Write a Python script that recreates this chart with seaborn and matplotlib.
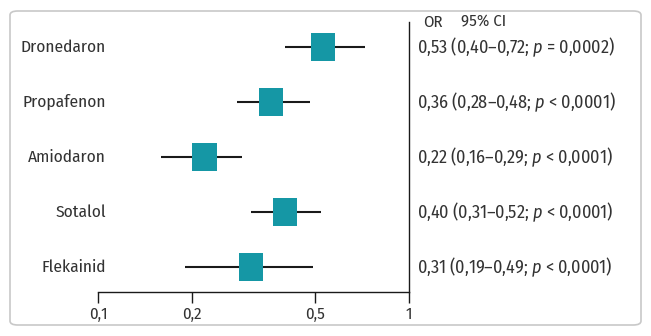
import matplotlib
matplotlib.use("Agg")
import matplotlib.pyplot as plt
import seaborn as sns
import pandas as pd
from matplotlib.patches import FancyBboxPatch

drugs = ["Dronedaron", "Propafenon", "Amiodaron", "Sotalol", "Flekainid"]
or_vals = [0.53, 0.36, 0.22, 0.40, 0.31]
ci_low = [0.40, 0.28, 0.16, 0.31, 0.19]
ci_high = [0.72, 0.48, 0.29, 0.52, 0.49]
p_ops = ["=", "<", "<", "<", "<"]
p_vals = ["0,0002", "0,0001", "0,0001", "0,0001", "0,0001"]
xticks = [0.1, 0.2, 0.5, 1]
xticklabels = ["0,1", "0,2", "0,5", "1"]

sns.set_theme(style="white")
FONT = "Fira Sans Condensed"
FAM = [FONT, "DejaVu Sans"]
plt.rcParams["font.family"] = FAM
plt.rcParams["mathtext.fontset"] = "custom"
plt.rcParams["mathtext.rm"] = FONT
plt.rcParams["mathtext.it"] = FONT + ":italic"

TXT = "#333333"
TEAL = "#1597A5"

W, H = 651, 336
fig = plt.figure(figsize=(W / 100, H / 100), dpi=100)
fig.patches.append(FancyBboxPatch((10 / W, 11 / H), 631 / W, 314 / H,
                                  boxstyle="round,pad=0,rounding_size=0.012",
                                  transform=fig.transFigure, fill=False,
                                  edgecolor="#c8c8c8", linewidth=1.2))

ax = fig.add_axes([98 / W, (H - 292) / H, (409 - 98) / W, (292 - 22) / H])
ax.set_facecolor("none")

df = pd.DataFrame({"drug": drugs, "OR": or_vals, "lo": ci_low, "hi": ci_high})
df["y"] = range(len(df))

ax.hlines(df["y"], df["lo"], df["hi"], color="#1a1a1a", linewidth=1.5, zorder=2)
rect = [(-0.43, -0.5), (0.43, -0.5), (0.43, 0.5), (-0.43, 0.5), (-0.43, -0.5)]
sns.scatterplot(data=df, x="OR", y="y", marker=rect, s=406, color=TEAL,
                edgecolor="none", ax=ax, zorder=3, legend=False)

ax.set_xscale("log")
ax.set_xlim(0.1, 1)
ax.set_ylim(4.4545, -0.4545)
ax.set_xticks(xticks)
ax.set_xticklabels(xticklabels, fontsize=12, color=TXT)
ax.minorticks_off()
ax.set_yticks([])
ax.set_xlabel("")
ax.set_ylabel("")
ax.tick_params(axis="x", direction="out", length=8, width=1, color="#1a1a1a",
               pad=2, bottom=True)
for s in ["top", "left"]:
    ax.spines[s].set_visible(False)
for s in ["bottom", "right"]:
    ax.spines[s].set_visible(True)
    ax.spines[s].set_color("#1a1a1a")
    ax.spines[s].set_linewidth(1.0)

ytr = matplotlib.transforms.blended_transform_factory(fig.transFigure, ax.transData)
for i, d in enumerate(drugs):
    ax.text(106 / W, i, d, transform=ytr, ha="right",
            va="center", fontsize=12.5, color=TXT)
    label = (f"{or_vals[i]:.2f} ({ci_low[i]:.2f}\u2013{ci_high[i]:.2f}; "
             f"$p$ {p_ops[i]} {p_vals[i]})").replace(".", ",")
    ax.text(417 / W, i, label, transform=ytr, ha="left",
            va="center", fontsize=13, color=TXT)

fig.text(423 / W, 1 - 22 / H, "OR", fontsize=12, color=TXT, ha="left", va="center")
fig.text(461 / W, 1 - 22 / H, "95% CI", fontsize=12, color=TXT, ha="left", va="center")

fig.savefig("out.png", dpi=100)
